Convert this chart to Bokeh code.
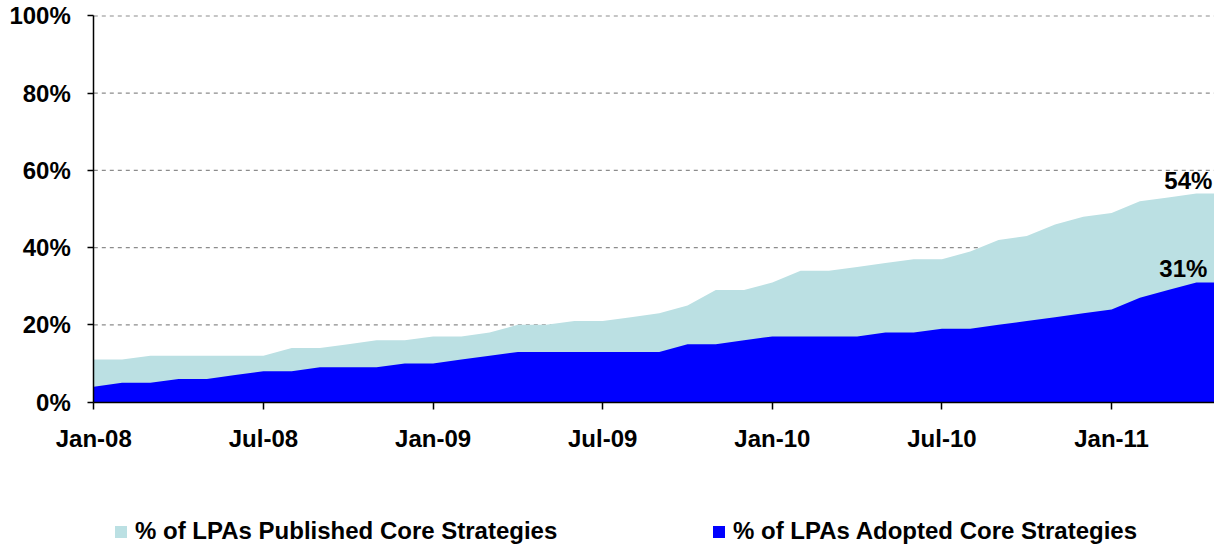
from bokeh.plotting import figure
from bokeh.models import (Legend, LegendItem, FixedTicker, Range1d, Label,
                          ColumnDataSource)
from bokeh.embed import file_html
from bokeh.resources import INLINE

# Monthly index: 0 = Jan-08 ... 40 = May-11
months = list(range(41))
published = [11, 11, 12, 12, 12, 12, 12, 14, 14, 15, 16, 16, 17, 17, 18, 20,
             20, 21, 21, 22, 23, 25, 29, 29, 31, 34, 34, 35, 36, 37, 37, 39,
             42, 43, 46, 48, 49, 52, 53, 54, 54]
adopted = [4, 5, 5, 6, 6, 7, 8, 8, 9, 9, 9, 10, 10, 11, 12, 13,
           13, 13, 13, 13, 13, 15, 15, 16, 17, 17, 17, 17, 18, 18, 19, 19,
           20, 21, 22, 23, 24, 27, 29, 31, 31]
x_ticks = [0, 6, 12, 18, 24, 30, 36]
x_tick_labels = ["Jan-08", "Jul-08", "Jan-09", "Jul-09", "Jan-10", "Jul-10", "Jan-11"]
y_ticks = [0, 20, 40, 60, 80, 100]
y_tick_labels = ["0%", "20%", "40%", "60%", "80%", "100%"]
series_names = ["% of LPAs Published Core Strategies", "% of LPAs Adopted Core Strategies"]

FONT = "Liberation Sans"
FS = "24px"

# The frame fills the canvas; both axes are pinned at 0 inside it.
p = figure(width=1214, height=545, output_backend="svg", toolbar_location=None,
           x_range=Range1d(-3.30, 39.64), y_range=Range1d(-37.14, 104.01),
           min_border_left=0, min_border_right=0, min_border_top=0,
           min_border_bottom=0)
p.outline_line_color = None
p.background_fill_color = "white"
p.border_fill_color = "white"

src = ColumnDataSource(dict(m=months, pub=published, adp=adopted,
                            zero=[0] * len(months)))

# dashed horizontal gridlines, starting at the y axis
gy = y_ticks[1:]
p.segment(x0=[months[0]] * len(gy), x1=[months[-1]] * len(gy), y0=gy, y1=gy,
          line_color="#8c8c8c", line_dash="4 4", line_width=1.2)

r1 = p.varea(x="m", y1="zero", y2="pub", source=src, fill_color="#BBE0E3")
r2 = p.varea(x="m", y1="zero", y2="adp", source=src, fill_color="#0000FF")

p.xgrid.visible = False
p.ygrid.visible = False

# axes
for ax in (p.xaxis[0], p.yaxis[0]):
    ax.axis_line_color = "black"
    ax.axis_line_width = 1.5
    ax.major_tick_line_color = "black"
    ax.major_tick_line_width = 1.5
    ax.minor_tick_line_color = None
    ax.major_tick_in = 0
    ax.major_label_text_font = FONT
    ax.major_label_text_font_style = "bold"
    ax.major_label_text_font_size = FS
    ax.major_label_text_color = "black"

p.xaxis.fixed_location = 0
p.xaxis.bounds = (months[0], months[-1])
p.xaxis.ticker = FixedTicker(ticks=x_ticks)
p.xaxis.major_label_overrides = dict(zip(x_ticks, x_tick_labels))
p.xaxis.major_tick_out = 7
p.xaxis.major_label_standoff = 16

p.yaxis.fixed_location = 0
p.yaxis.bounds = (y_ticks[0], y_ticks[-1])
p.yaxis.ticker = FixedTicker(ticks=y_ticks)
p.yaxis.major_label_overrides = dict(zip(y_ticks, y_tick_labels))
p.yaxis.major_tick_out = 6
p.yaxis.major_label_standoff = 17

# legends at the bottom of the canvas
for r, name, loc in ((r1, series_names[0], (113, 0)), (r2, series_names[1], (711, 0))):
    leg = Legend(items=[LegendItem(label=name, renderers=[r])], location=loc,
                 padding=0, margin=0, border_line_color=None,
                 background_fill_alpha=0, glyph_width=15, glyph_height=15,
                 label_standoff=7, label_text_font=FONT,
                 label_text_font_style="bold", label_text_font_size=FS,
                 label_text_color="black")
    p.add_layout(leg)

# end-value labels
for vals, xo in ((published, 16), (adopted, 11)):
    p.add_layout(Label(x=months[-2], y=vals[-2], text=f"{vals[-2]}%",
                       x_offset=xo, y_offset=0, text_align="right",
                       text_baseline="bottom", text_font=FONT,
                       text_font_style="bold", text_font_size=FS,
                       text_color="black"))

open("out.html", "w").write(file_html(p, INLINE))
